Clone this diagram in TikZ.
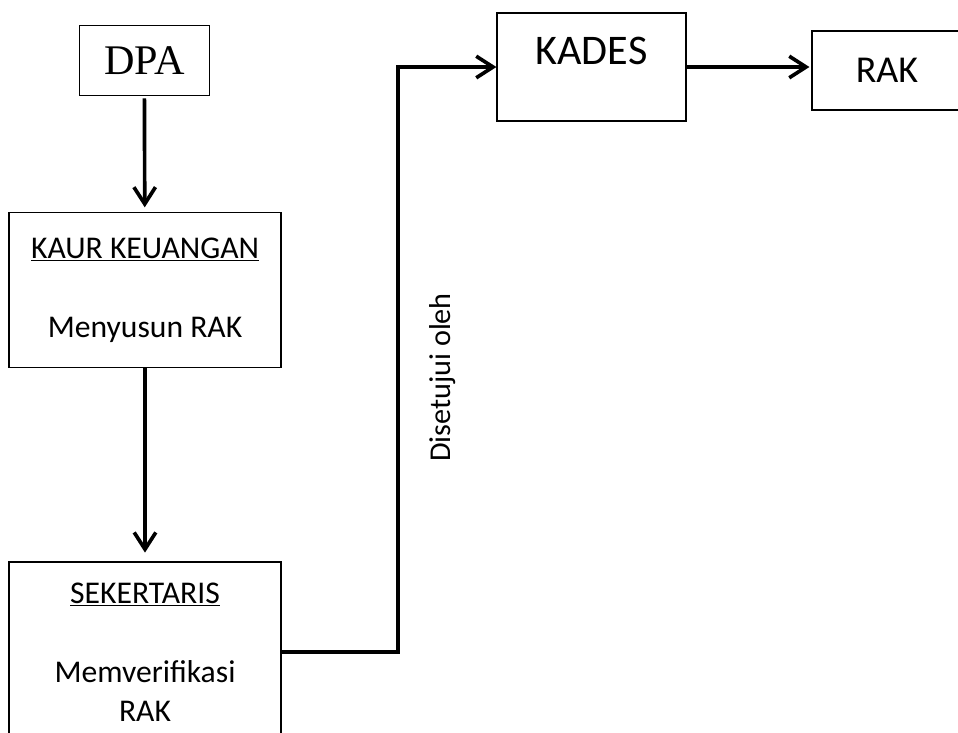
\documentclass[tikz,border=0pt]{standalone}
\usepackage{fontspec}
\setmainfont{Carlito}
\newfontfamily\dpafont{Liberation Serif}
\usepackage{tikz}
\usetikzlibrary{arrows.meta}

\begin{document}
\begin{tikzpicture}[x=0.025cm,y=-0.025cm,
  >={Straight Barb[length=4.2mm,width=5.4mm]},
  box/.style={draw,line width=0.8pt,align=center,font=\fontsize{22.5}{27.7}\selectfont},
  flow/.style={->,line width=2.6pt}]
\useasboundingbox (0,0) rectangle (958,732);
\node[box,minimum width=3.25cm,minimum height=1.75cm,font=\dpafont\fontsize{30}{36}\selectfont] (dpa) at (144.3,60.7) {DPA};
\node[box,minimum width=6.8cm,minimum height=3.875cm] (kaur) at (145,290.2) {\underline{KAUR KEUANGAN}\\[1.0cm]Menyusun RAK};
\node[box,minimum width=6.8cm,minimum height=4.5cm] (sek) at (145,652) {\underline{SEKERTARIS}\\[1.0cm]Memverifikasi\\RAK};
\node[box,minimum width=4.725cm,minimum height=2.7cm,text depth=0.8cm,font=\fontsize{30}{36}\selectfont] (kades) at (591.5,67) {KADES};
\node[box,minimum width=3.75cm,minimum height=1.975cm,font=\fontsize{27}{32}\selectfont] (rak) at (887,70.5) {RAK};
\coordinate (turn) at (398,360);
\node[rotate=90,anchor=base,font=\fontsize{21.5}{26}\selectfont] (approval) at (450,377.5) {Disetujui oleh};

\draw[flow,shorten <=0.05cm,shorten >=0.12cm] (dpa) -- (kaur);
\draw[flow,shorten >=0.22cm] (kaur) -- (sek);
\draw[flow] (sek.east) -| (turn) |- (kades.west);
\draw[flow,shorten >=0.05cm] (kades.east) -- (kades.east -| rak.west);
\end{tikzpicture}
\end{document}
